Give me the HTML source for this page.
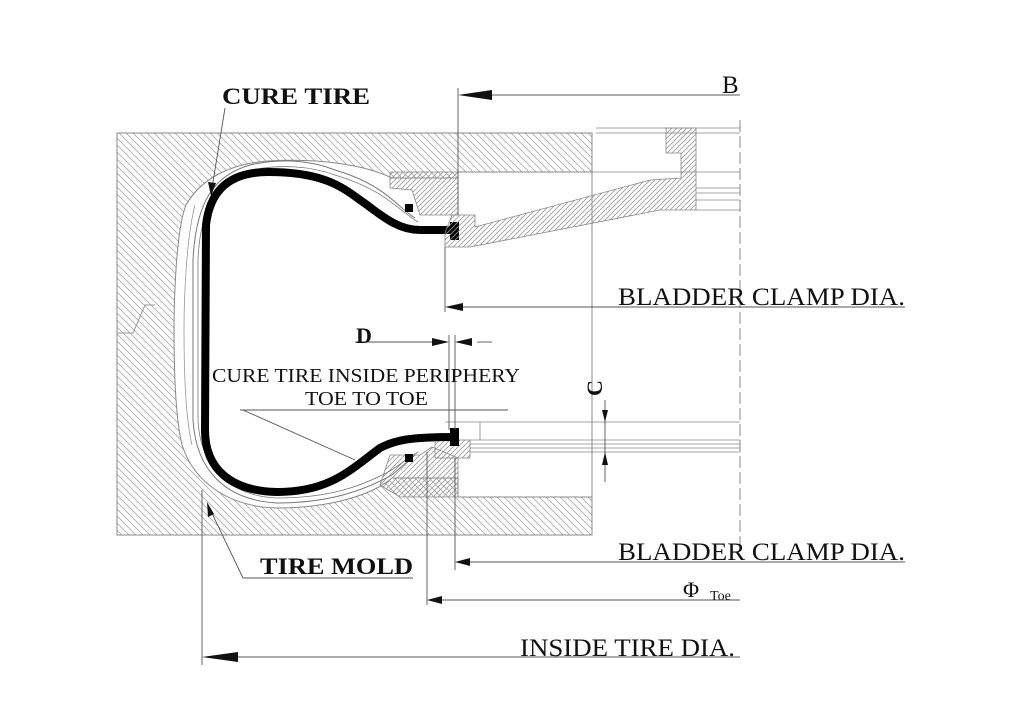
<!DOCTYPE html>
<html><head><meta charset="utf-8"><style>
html,body{margin:0;padding:0;background:#fff;}
svg{display:block;}
text{font-family:"Liberation Serif",serif;fill:#111;}
</style></head><body>
<svg width="1024" height="723" viewBox="0 0 1024 723" xmlns="http://www.w3.org/2000/svg">
<defs>
<pattern id="h" width="7" height="7" patternUnits="userSpaceOnUse">
<path d="M-1,-1 L8,8 M-1,6 L1,8 M6,-1 L8,1" stroke="#aaa" stroke-width="0.8"/>
</pattern>
<pattern id="h2" width="5" height="5" patternUnits="userSpaceOnUse">
<path d="M-1,6 L6,-1 M-1,1 L1,-1 M4,6 L6,4" stroke="#999" stroke-width="0.8"/>
</pattern>
</defs>

<!-- mold -->
<rect x="117" y="133" width="475" height="402" fill="url(#h)" stroke="#888" stroke-width="1"/>
<path d="M392,178 C365,165 320,158 268,161 C228,164 200,180 186,205 C176,230 174,300 174,330 C174,380 176,420 182,445 C195,485 232,507 277,508 C330,508 372,495 392,478 L458,478 L458,497 L592,497 L592,172 L458,172 L458,178 Z" fill="#fff" stroke="#888" stroke-width="1"/>
<path d="M195,205 C186,240 184,300 184,330 C184,380 186,420 192,445" fill="none" stroke="#999" stroke-width="0.8"/>
<path d="M117,333 L133,333 L145,305 L155,305" fill="none" stroke="#999" stroke-width="1"/>
<path d="M390,172 L458,172 L458,215 L420,215 L412,190 L390,188 Z" fill="url(#h2)" stroke="#888" stroke-width="0.8"/>
<path d="M390,455 L420,455 L432,447 L458,458 L458,497 L400,497 L380,485 Z" fill="url(#h2)" stroke="#888" stroke-width="0.8"/>
<rect x="435" y="440" width="35" height="18" fill="url(#h2)" stroke="#888" stroke-width="0.8"/>

<path d="M415,218 C395,205 385,185 335,170 C310,160 280,158 250,165 C215,175 196,200 193,260 L193,420 C196,470 225,500 277,503 C330,503 365,490 392,475 L415,455" fill="none" stroke="#777" stroke-width="1"/>
<path d="M418,222 C398,210 385,190 335,175 C310,166 280,164 252,170 C220,180 200,205 198,260 L198,420 C200,465 228,496 277,498 C330,498 362,486 390,471 L418,452" fill="none" stroke="#777" stroke-width="0.8"/>
<path d="M456,230 L420,230 C395,230 378,212 360,200 C340,185 320,172 268,172 C230,172 210,190 206,225 L205,430 C205,470 232,491 277,492 C330,492 350,470 380,448 C395,440 410,437 456,437" fill="none" stroke="#000" stroke-width="8"/>
<rect x="450" y="222" width="9" height="18" fill="#000"/>
<rect x="450" y="428" width="9" height="18" fill="#000"/>
<rect x="405" y="204" width="8" height="8" fill="#000"/>
<rect x="405" y="454" width="8" height="8" fill="#000"/>

<path d="M445,233 L445,247 L470,247 L660,210 L696,210 L696,128 L666,128 L666,153 L681,153 L681,178 L650,180 L475,227 L475,215 L452,215 Z" fill="url(#h2)" stroke="#888" stroke-width="0.8"/>
<g stroke="#888" stroke-width="0.8">
<line x1="596" y1="128" x2="740" y2="128"/><line x1="596" y1="133" x2="740" y2="133"/>
<line x1="458" y1="172" x2="740" y2="172"/>
<line x1="696" y1="188" x2="740" y2="188"/><line x1="696" y1="193" x2="740" y2="193"/>
<line x1="696" y1="200" x2="740" y2="200"/><line x1="696" y1="210" x2="740" y2="210"/>
<line x1="445" y1="422" x2="740" y2="422"/>
<line x1="470" y1="440" x2="740" y2="440"/><line x1="470" y1="444" x2="740" y2="444"/>
<line x1="470" y1="448" x2="740" y2="448"/><line x1="470" y1="452" x2="740" y2="452"/>
<line x1="480" y1="422" x2="480" y2="440"/>
</g>
<line x1="740" y1="120" x2="740" y2="545" stroke="#888" stroke-width="1" stroke-dasharray="12,4"/>

<g stroke="#555" stroke-width="0.9" fill="none">
<line x1="458" y1="88" x2="458" y2="215"/>
<line x1="468" y1="95" x2="740" y2="95"/>
<line x1="445" y1="247" x2="445" y2="312"/>
<line x1="455" y1="307" x2="905" y2="307"/>
<line x1="355" y1="342" x2="432" y2="342"/>
<line x1="449" y1="335" x2="449" y2="430"/>
<line x1="455" y1="335" x2="455" y2="430"/>
<line x1="477" y1="342" x2="492" y2="342"/>
<line x1="240" y1="410" x2="508" y2="410"/>
<line x1="243" y1="410" x2="355" y2="460"/>
<line x1="605" y1="400" x2="605" y2="482"/>
<line x1="225" y1="108" x2="212" y2="188"/>
<line x1="208" y1="505" x2="243" y2="578"/>
<line x1="243" y1="578" x2="413" y2="578"/>
<line x1="455" y1="458" x2="455" y2="570"/>
<line x1="465" y1="562" x2="905" y2="562"/>
<line x1="427" y1="452" x2="427" y2="605"/>
<line x1="437" y1="600" x2="740" y2="600"/>
<line x1="202" y1="490" x2="202" y2="665"/>
<line x1="212" y1="657" x2="740" y2="657"/>
</g>
<g fill="#111">
<path d="M458,95 L492,90 L492,100 Z"/>
<path d="M445,307 L463,303 L463,311 Z"/>
<path d="M449,342 L432,338 L432,346 Z"/>
<path d="M455,342 L472,338 L472,346 Z"/>
<path d="M605,422 L602,410 L608,410 Z"/>
<path d="M605,452 L602,465 L608,465 Z"/>
<path d="M211,196 L208,182 L216,183 Z"/>
<path d="M207,502 L214,514 L208,517 Z"/>
<path d="M455,562 L470,558 L470,566 Z"/>
<path d="M427,600 L442,596 L442,604 Z"/>
<path d="M202,657 L238,652 L238,662 Z"/>
</g>

<text x="222" y="104" font-size="23" font-weight="bold" textLength="148" lengthAdjust="spacingAndGlyphs">CURE TIRE</text>
<text x="722" y="93" font-size="25">B</text>
<text x="618" y="305" font-size="25" textLength="287" lengthAdjust="spacingAndGlyphs">BLADDER CLAMP DIA.</text>
<text x="356" y="343" font-size="22" font-weight="bold">D</text>
<text x="212" y="382" font-size="20" textLength="308" lengthAdjust="spacingAndGlyphs">CURE TIRE INSIDE PERIPHERY</text>
<text x="305" y="405" font-size="20" textLength="123" lengthAdjust="spacingAndGlyphs">TOE TO TOE</text>
<text x="0" y="0" font-size="22" font-weight="bold" transform="translate(602,396) rotate(-90)">C</text>
<text x="260" y="574" font-size="23" font-weight="bold" textLength="153" lengthAdjust="spacingAndGlyphs">TIRE MOLD</text>
<text x="618" y="560" font-size="25" textLength="287" lengthAdjust="spacingAndGlyphs">BLADDER CLAMP DIA.</text>
<text x="683" y="597" font-size="22">Φ</text>
<text x="710" y="600" font-size="14">Toe</text>
<text x="520" y="656" font-size="25" textLength="215" lengthAdjust="spacingAndGlyphs">INSIDE TIRE DIA.</text>
</svg>
</body></html>
